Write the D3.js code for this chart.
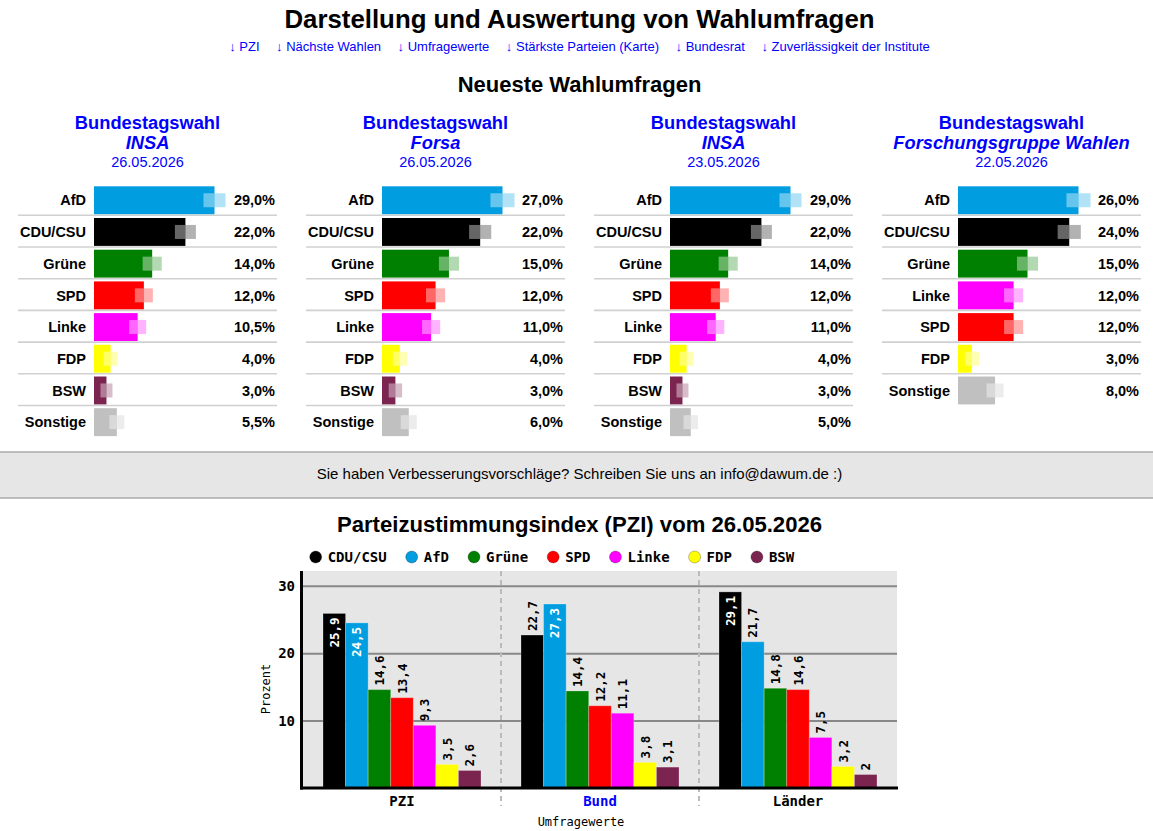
<!DOCTYPE html>
<html lang="de">
<head>
<meta charset="UTF-8">
<title>Darstellung und Auswertung von Wahlumfragen</title>
<script src="https://d3js.org/d3.v7.min.js"></script>
<style>
  body { margin: 0; background: #fff; overflow: hidden; }
  svg { display: block; }
  .sans { font-family: "Liberation Sans", Arial, sans-serif; }
  .mono { font-family: "DejaVu Sans Mono", monospace; }
</style>
</head>
<body>
<svg id="page" width="1153" height="831"></svg>
<script>
// ---- data ----
const topLinks = ["PZI", "Nächste Wahlen", "Umfragewerte", "Stärkste Parteien (Karte)", "Bundesrat", "Zuverlässigkeit der Institute"];

const partyNames = ["CDU/CSU", "AfD", "Grüne", "SPD", "Linke", "FDP", "BSW", "Sonstige"];
const partyColors = ["#000000", "#009ee0", "#008000", "#ff0000", "#ff00ff", "#ffff00", "#7b2450", "#c0c0c0"];

const pollElections = ["Bundestagswahl", "Bundestagswahl", "Bundestagswahl", "Bundestagswahl"];
const pollInstitutes = ["INSA", "Forsa", "INSA", "Forschungsgruppe Wahlen"];
const pollDates = ["26.05.2026", "26.05.2026", "23.05.2026", "22.05.2026"];
const pollParties = [
  ["AfD", "CDU/CSU", "Grüne", "SPD", "Linke", "FDP", "BSW", "Sonstige"],
  ["AfD", "CDU/CSU", "Grüne", "SPD", "Linke", "FDP", "BSW", "Sonstige"],
  ["AfD", "CDU/CSU", "Grüne", "SPD", "Linke", "FDP", "BSW", "Sonstige"],
  ["AfD", "CDU/CSU", "Grüne", "Linke", "SPD", "FDP", "Sonstige"]
];
const pollValues = [
  [29, 22, 14, 12, 10.5, 4, 3, 5.5],
  [27, 22, 15, 12, 11, 4, 3, 6],
  [29, 22, 14, 12, 11, 4, 3, 5],
  [26, 24, 15, 12, 12, 3, 8]
];
// margin of error (percentage points)
const pollErrors = [
  [2.65, 2.53, 2.29, 2.17, 2.05, 1.68, 1.44, 1.8],
  [2.7, 2.48, 2.25, 2.14, 2.03, 1.58, 1.5, 1.8],
  [2.65, 2.53, 2.29, 2.17, 2.07, 1.68, 1.44, 1.75],
  [2.6, 2.5, 2.28, 2.06, 2.06, 1.52, 1.84]
];

const feedbackText = "Sie haben Verbesserungsvorschläge? Schreiben Sie uns an info@dawum.de :)";

const pziTitle = "Parteizustimmungsindex (PZI) vom 26.05.2026";
const pziGroups = ["PZI", "Bund", "Länder"];
const pziParties = ["CDU/CSU", "AfD", "Grüne", "SPD", "Linke", "FDP", "BSW"];
const pziValues = [
  [25.9, 24.5, 14.6, 13.4, 9.3, 3.5, 2.6],
  [22.7, 27.3, 14.4, 12.2, 11.1, 3.8, 3.1],
  [29.1, 21.7, 14.8, 14.6, 7.5, 3.2, 2]
];
const yTicks = [10, 20, 30];

// ---- helpers ----
const svg = d3.select("#page");
const cx = 579.5;
const blue = "#0000ff";
const colorOf = name => partyColors[partyNames.indexOf(name)];
const de = d3.formatLocale({ decimal: ",", thousands: ".", grouping: [3], currency: ["", "€"] });
const pct = de.format(".1f");
const num = v => String(v).replace(".", ",");

// ---- header ----
svg.append("text").attr("class", "sans")
  .attr("x", cx).attr("y", 28).attr("text-anchor", "middle")
  .style("font-size", "25.8px").style("font-weight", "bold")
  .text("Darstellung und Auswertung von Wahlumfragen");

// links row, laid out from measured widths
const linkG = svg.append("g");
const linkTexts = linkG.selectAll("text").data(topLinks).join("text")
  .attr("class", "sans").attr("y", 51)
  .style("font-size", "13px").attr("fill", blue)
  .text(d => "\u2193 " + d);
const linkGap = 16.5;
const widths = linkTexts.nodes().map(n => n.getComputedTextLength());
const totalW = d3.sum(widths) + linkGap * (widths.length - 1);
let lx = cx - totalW / 2;
linkTexts.each(function (d, i) {
  d3.select(this).attr("x", lx);
  lx += widths[i] + linkGap;
});

svg.append("text").attr("class", "sans")
  .attr("x", cx).attr("y", 92).attr("text-anchor", "middle")
  .style("font-size", "22px").style("font-weight", "bold")
  .text("Neueste Wahlumfragen");

// ---- poll columns ----
const colW = 288;
const rowStep = 31.7;
const rowTop = 184.4;
const barX0 = 94;
const barMax = 120.5;

pollInstitutes.forEach((inst, i) => {
  const g = svg.append("g").attr("transform", `translate(${i * colW},0)`);
  const names = pollParties[i];
  const vals = pollValues[i];
  const errs = pollErrors[i];
  const n = names.length;

  g.append("text").attr("class", "sans").attr("x", 147.5).attr("y", 128.5)
    .attr("text-anchor", "middle").attr("fill", blue)
    .style("font-size", "18.3px").style("font-weight", "bold")
    .text(pollElections[i]);
  g.append("text").attr("class", "sans").attr("x", 147.5).attr("y", 149)
    .attr("text-anchor", "middle").attr("fill", blue)
    .style("font-size", "18.3px").style("font-weight", "bold").style("font-style", "italic")
    .text(inst);
  g.append("text").attr("class", "sans").attr("x", 147.5).attr("y", 167)
    .attr("text-anchor", "middle").attr("fill", blue)
    .style("font-size", "14.5px")
    .text(pollDates[i]);

  const y = d3.scaleBand().domain(d3.range(n))
    .range([rowTop, rowTop + n * rowStep]).paddingInner(0.12).paddingOuter(0.06);
  const x = d3.scaleLinear().domain([0, d3.max(vals)]).range([0, barMax]);
  const bw = y.bandwidth();

  // separators
  g.selectAll("line.sep").data(d3.range(n - 1)).join("line")
    .attr("x1", 18).attr("x2", 277)
    .attr("y1", k => y(k) + bw + 1.1).attr("y2", k => y(k) + bw + 1.1)
    .attr("stroke", "#d0d0d0").attr("stroke-width", 1.6);

  const rows = g.selectAll("g.row").data(d3.range(n)).join("g").attr("class", "row");

  rows.append("rect")
    .attr("x", barX0).attr("y", k => y(k))
    .attr("width", k => x(vals[k])).attr("height", bw)
    .attr("fill", k => colorOf(names[k]));

  // error box: inner part lightens the bar, outer part a pale tint
  rows.append("rect")
    .attr("x", k => barX0 + x(Math.max(0, vals[k] - errs[k])))
    .attr("y", k => y(k) + bw / 2 - 7)
    .attr("width", k => x(vals[k]) - x(Math.max(0, vals[k] - errs[k])))
    .attr("height", 14)
    .attr("fill", "#fff").attr("fill-opacity", 0.4);
  rows.append("rect")
    .attr("x", k => barX0 + x(vals[k]))
    .attr("y", k => y(k) + bw / 2 - 7)
    .attr("width", k => x(vals[k] + errs[k]) - x(vals[k]))
    .attr("height", 14)
    .attr("fill", k => colorOf(names[k])).attr("fill-opacity", 0.3);

  rows.append("text").attr("class", "sans")
    .attr("x", 86).attr("y", k => y(k) + bw / 2 + 5.2)
    .attr("text-anchor", "end")
    .style("font-size", "14.5px").style("font-weight", "bold")
    .text(k => names[k]);
  rows.append("text").attr("class", "sans")
    .attr("x", 275).attr("y", k => y(k) + bw / 2 + 5.2)
    .attr("text-anchor", "end")
    .style("font-size", "14.5px").style("font-weight", "bold")
    .text(k => pct(vals[k]) + "%");
});

// ---- feedback band ----
svg.append("rect").attr("x", 0).attr("y", 452).attr("width", 1153).attr("height", 46)
  .attr("fill", "#e6e6e6");
svg.selectAll("line.band").data([452, 498]).join("line")
  .attr("x1", 0).attr("x2", 1153).attr("y1", d => d).attr("y2", d => d)
  .attr("stroke", "#aaa").attr("stroke-width", 1.5);
svg.append("text").attr("class", "sans")
  .attr("x", cx).attr("y", 479).attr("text-anchor", "middle")
  .style("font-size", "15px")
  .text(feedbackText);

// ---- PZI chart ----
svg.append("text").attr("class", "sans")
  .attr("x", cx).attr("y", 532).attr("text-anchor", "middle")
  .style("font-size", "22.1px").style("font-weight", "bold")
  .text(pziTitle);

const plotL = 303, plotR = 897, plotT = 571, plotB = 788;
const gx = d3.scaleBand().domain(pziGroups).range([plotL, plotR]);
const px = d3.scaleBand().domain(pziParties).range([20, gx.bandwidth() - 20]);
const py = d3.scaleLinear().domain([0, 32.2]).range([plotB, plotT]);

// legend
const leg = svg.append("g");
let legX = 315.7;
pziParties.forEach((p, i) => {
  leg.append("circle").attr("cx", legX).attr("cy", 557).attr("r", 6)
    .attr("fill", colorOf(p)).attr("stroke", "#000").attr("stroke-opacity", 0.25);
  const t = leg.append("text").attr("class", "mono")
    .attr("x", legX + 12).attr("y", 562)
    .style("font-size", "14px").style("font-weight", "bold")
    .text(p);
  legX += 12 + t.node().getComputedTextLength() + 25;
});

svg.append("rect").attr("x", plotL).attr("y", plotT)
  .attr("width", plotR - plotL).attr("height", plotB - plotT)
  .attr("fill", "#e6e6e6");

const yAxis = svg.append("g").attr("transform", `translate(${plotL},0)`)
  .call(d3.axisLeft(py).tickValues(yTicks).tickSize(-(plotR - plotL)).tickPadding(8));
yAxis.select(".domain").remove();
yAxis.selectAll(".tick line").attr("stroke", "#888").attr("stroke-width", 2);
yAxis.selectAll(".tick text").attr("class", "mono")
  .style("font-size", "14px").style("font-weight", "bold").attr("fill", "#000");

// group separators
svg.selectAll("line.gsep").data(pziGroups.slice(1)).join("line")
  .attr("x1", d => gx(d)).attr("x2", d => gx(d))
  .attr("y1", plotT).attr("y2", 806)
  .attr("stroke", "#bbb").attr("stroke-width", 2).attr("stroke-dasharray", "5,4");

const groups = svg.selectAll("g.grp").data(pziGroups).join("g")
  .attr("transform", d => `translate(${gx(d)},0)`);

groups.each(function (grp, gi) {
  const g = d3.select(this);
  const vals = pziValues[gi];
  g.selectAll("rect").data(pziParties).join("rect")
    .attr("x", p => px(p)).attr("width", px.bandwidth())
    .attr("y", (p, k) => py(vals[k])).attr("height", (p, k) => plotB - py(vals[k]))
    .attr("fill", p => colorOf(p))
    .attr("stroke", "#fff").attr("stroke-opacity", 0.25).attr("stroke-width", 1);

  g.selectAll("text.val").data(pziParties).join("text")
    .attr("class", "mono")
    .attr("transform", (p, k) => {
      const inside = vals[k] > 23;
      const yy = inside ? py(vals[k]) + 4 : py(vals[k]) - 4;
      return `translate(${px(p) + px.bandwidth() / 2},${yy}) rotate(-90)`;
    })
    .attr("dy", "0.36em")
    .attr("text-anchor", (p, k) => vals[k] > 23 ? "end" : "start")
    .attr("fill", (p, k) => vals[k] > 23 ? "#fff" : "#000")
    .style("font-size", "12.5px").style("font-weight", "bold")
    .text((p, k) => num(vals[k]));
});

// axes lines
svg.append("line").attr("x1", plotL - 1.5).attr("x2", plotL - 1.5)
  .attr("y1", plotT).attr("y2", plotB + 1.5)
  .attr("stroke", "#000").attr("stroke-width", 3);
svg.append("line").attr("x1", plotL - 3).attr("x2", plotR + 1)
  .attr("y1", plotB).attr("y2", plotB)
  .attr("stroke", "#000").attr("stroke-width", 3);

// group labels
svg.selectAll("text.glab").data(pziGroups).join("text")
  .attr("class", "mono")
  .attr("x", d => gx(d) + gx.bandwidth() / 2).attr("y", 806)
  .attr("text-anchor", "middle")
  .attr("fill", d => d === "Bund" ? blue : "#000")
  .style("font-size", "14px").style("font-weight", "bold")
  .text(d => d);

svg.append("text").attr("class", "mono")
  .attr("x", 581).attr("y", 826).attr("text-anchor", "middle")
  .style("font-size", "12px")
  .text("Umfragewerte");

svg.append("text").attr("class", "mono")
  .attr("transform", "translate(266,689) rotate(-90)")
  .attr("dy", "0.36em").attr("text-anchor", "middle")
  .style("font-size", "12px")
  .text("Prozent");
</script>
</body>
</html>
